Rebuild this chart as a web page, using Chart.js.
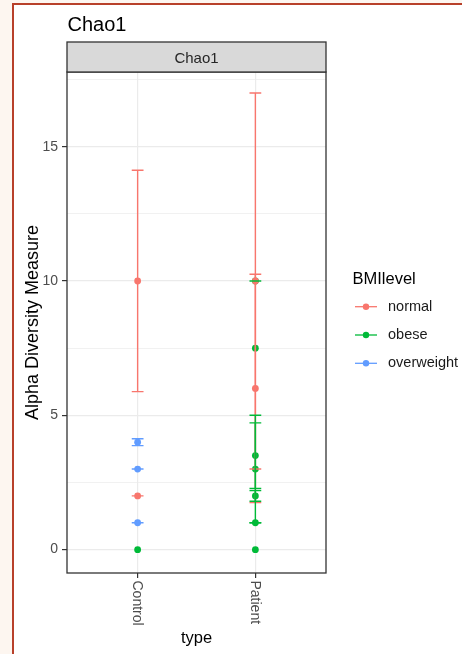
<!DOCTYPE html>
<html>
<head>
<meta charset="utf-8">
<script src="https://cdn.jsdelivr.net/npm/chart.js@4.4.1/dist/chart.umd.min.js"></script>
<style>
  html, body { margin: 0; padding: 0; background: #fdf6f0; overflow: hidden; }
  #marco {
    position: absolute; left: 12px; top: 3px; width: 470px; height: 680px;
    background: #ffffff; border-left: 2px solid #b8402a; border-top: 2px solid #b8402a;
  }
  #grafica { position: absolute; left: 0; top: 0; }
</style>
</head>
<body>
<div id="marco"></div>
<canvas id="grafica" width="462" height="654"></canvas>
<script>
const categorias = ["Control", "Patient"];
const grupos = ["normal", "obese", "overweight"];
const colores = ["#F8766D", "#00BA38", "#619CFF"];

// indice de categoria, valor Chao1 y error estandar (null = sin barra)
const normalTipo = [0, 0, 1, 1];
const normalValor = [10, 2, 10, 6];
const normalSE = [4.12, 0, 7, 4.25];

const obeseTipo = [0, 1, 1, 1, 1, 1, 1, 1];
const obeseValor = [0, 10, 7.5, 3.5, 3, 2, 1, 0];
const obeseSE = [null, 0, null, 1.22, 2, 0.2, 0, null];

const overweightTipo = [0, 0, 0];
const overweightValor = [4, 3, 1];
const overweightSE = [0.13, 0, 0];

const yTicksMayores = [0, 5, 10, 15];
const yTicksMenores = [2.5, 7.5, 12.5, 17.5];

const tipos = [normalTipo, obeseTipo, overweightTipo];
const valores = [normalValor, obeseValor, overweightValor];
const errores = [normalSE, obeseSE, overweightSE];

const fuente = "'Liberation Sans', Arial, sans-serif";

function armarDatos(i) {
  return tipos[i].map((t, j) => ({ x: t, y: valores[i][j] }));
}

const barrasError = {
  id: "barrasError",
  afterDatasetsDraw(chart) {
    const ctx = chart.ctx;
    const xS = chart.scales.x;
    const yS = chart.scales.y;
    ctx.save();
    ctx.lineWidth = 1.4;
    grupos.forEach((g, i) => {
      ctx.strokeStyle = colores[i];
      tipos[i].forEach((t, j) => {
        const se = errores[i][j];
        if (se === null) return;
        const v = valores[i][j];
        const x = xS.getPixelForValue(t);
        const media = xS.getPixelForValue(t + 0.05) - x;
        const y1 = yS.getPixelForValue(v - se);
        const y2 = yS.getPixelForValue(v + se);
        ctx.beginPath();
        ctx.moveTo(x, y1); ctx.lineTo(x, y2);
        ctx.moveTo(x - media, y1); ctx.lineTo(x + media, y1);
        ctx.moveTo(x - media, y2); ctx.lineTo(x + media, y2);
        ctx.stroke();
      });
    });
    ctx.restore();
  },
  afterDraw(chart) {
    const ctx = chart.ctx;
    const a = chart.chartArea;
    const xS = chart.scales.x;
    ctx.save();

    // borde del panel
    ctx.strokeStyle = "#333333";
    ctx.lineWidth = 1.3;
    ctx.strokeRect(a.left, a.top, a.right - a.left, a.bottom - a.top);

    // franja superior
    ctx.fillStyle = "#d9d9d9";
    ctx.fillRect(a.left, 42, a.right - a.left, a.top - 42);
    ctx.strokeRect(a.left, 42, a.right - a.left, a.top - 42);
    ctx.fillStyle = "#262626";
    ctx.font = "15px " + fuente;
    ctx.textAlign = "center";
    ctx.textBaseline = "alphabetic";
    ctx.fillText("Chao1", (a.left + a.right) / 2, 63);

    // titulo
    ctx.fillStyle = "#000000";
    ctx.font = "20px " + fuente;
    ctx.textAlign = "left";
    ctx.fillText("Chao1", a.left + 0.5, 30.5);

    // etiquetas del eje x giradas
    ctx.fillStyle = "#4d4d4d";
    ctx.font = "14px " + fuente;
    ctx.textBaseline = "middle";
    categorias.forEach((c, i) => {
      ctx.save();
      ctx.translate(xS.getPixelForValue(i) - 1, a.bottom + 7.5);
      ctx.rotate(Math.PI / 2);
      ctx.fillText(c, 0, 0);
      ctx.restore();
    });

    // leyenda
    ctx.fillStyle = "#000000";
    ctx.font = "16.5px " + fuente;
    ctx.textBaseline = "alphabetic";
    ctx.fillText("BMIlevel", 352.5, 284);
    ctx.font = "14.5px " + fuente;
    grupos.forEach((g, i) => {
      const y = 306.7 + i * 28.3;
      ctx.strokeStyle = colores[i];
      ctx.lineWidth = 1.3;
      ctx.beginPath();
      ctx.moveTo(355, y); ctx.lineTo(377, y);
      ctx.stroke();
      ctx.fillStyle = colores[i];
      ctx.beginPath();
      ctx.arc(366, y, 3.2, 0, Math.PI * 2);
      ctx.fill();
      ctx.fillStyle = "#1a1a1a";
      ctx.textBaseline = "middle";
      ctx.fillText(g, 388, y);
    });
    ctx.restore();
  }
};

new Chart(document.getElementById("grafica"), {
  type: "scatter",
  data: {
    datasets: grupos.map((g, i) => ({
      label: g,
      data: armarDatos(i),
      backgroundColor: colores[i],
      borderWidth: 0,
      pointRadius: 3.4,
      pointHoverRadius: 3.4
    }))
  },
  options: {
    responsive: false,
    animation: false,
    devicePixelRatio: 1,
    layout: { padding: { left: 24, right: 136, top: 72, bottom: 7 } },
    plugins: { legend: { display: false }, tooltip: { enabled: false } },
    scales: {
      x: {
        type: "linear",
        min: -0.6,
        max: 1.6,
        afterBuildTicks: (s) => { s.ticks = categorias.map((c, i) => ({ value: i })); },
        afterFit: (s) => { s.height = 74; },
        ticks: { callback: () => "", padding: 0 },
        grid: { color: "#ebebeb", lineWidth: 1.2, tickColor: "#333333", tickLength: 5, tickWidth: 1.2 },
        border: { display: false },
        title: {
          display: true, text: "type", color: "#000000",
          font: { family: fuente, size: 16.5, lineHeight: 1 }, padding: 0
        }
      },
      y: {
        min: -0.87,
        max: 17.78,
        afterBuildTicks: (s) => {
          s.ticks = yTicksMayores.concat(yTicksMenores).sort((p, q) => p - q).map(v => ({ value: v }));
        },
        afterFit: (s) => { s.width = 43; },
        ticks: {
          callback: (v) => yTicksMayores.includes(v) ? String(v) : "",
          color: "#4d4d4d",
          font: { family: fuente, size: 14 },
          padding: 4
        },
        grid: {
          color: "#ebebeb",
          lineWidth: (c) => yTicksMayores.includes(c.tick && c.tick.value) ? 1.2 : 0.7,
          tickColor: (c) => yTicksMayores.includes(c.tick && c.tick.value) ? "#333333" : "rgba(0,0,0,0)",
          tickLength: 5,
          tickWidth: 1.2
        },
        border: { display: false },
        title: {
          display: true, text: "Alpha Diversity Measure", color: "#000000",
          font: { family: fuente, size: 18, lineHeight: 1 }, padding: 0
        }
      }
    }
  },
  plugins: [barrasError]
});
</script>
</body>
</html>
